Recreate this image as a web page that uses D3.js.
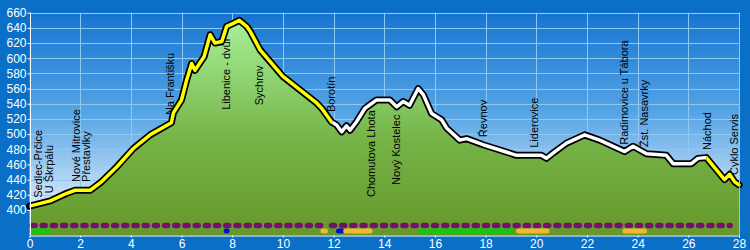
<!DOCTYPE html>
<html>
<head>
<meta charset="utf-8">
<script src="https://cdn.jsdelivr.net/npm/d3@7"></script>
<style>
  html, body { margin: 0; padding: 0; background: #0a6fc6; }
  svg { display: block; }
</style>
</head>
<body>
<div id="chart"></div>
<script>
// Elevation profile (km, metres)
const distKm = [0, 0.82, 1.47, 1.8, 2.4, 2.8, 3.45, 4.1, 4.76, 5.6, 5.68, 6.0, 6.2, 6.4, 6.53, 6.73, 6.89, 7.13, 7.32, 7.59,
    7.78, 8.04, 8.28, 8.57, 8.70, 9.1, 10.0, 11.33, 11.53, 11.92, 12.12, 12.32, 12.51, 12.65, 12.9, 13.24, 13.7, 14.22, 14.49,
    14.75, 15.0, 15.34, 15.54, 15.87, 16.26, 16.46, 16.98, 17.25, 17.9, 18.56, 19.22, 20.2, 20.4, 20.66, 21.19, 21.91, 22.5,
    23.49, 23.82, 24.35, 25.13, 25.4, 26.12, 26.38, 26.71, 27.43, 27.63, 27.83, 28.0];
const elevM = [405, 412, 422, 426, 426, 436, 457, 481, 499, 515, 528, 545, 571, 593, 584, 594, 602, 631, 620, 622,
    642, 646, 650, 642, 636, 611, 576, 541, 534, 516, 512, 503, 511, 505, 516, 534, 545, 545, 536,
    543, 538, 560, 552, 527, 519, 508, 492, 494, 486, 479, 472, 472, 468, 475, 488, 499, 492,
    477, 484, 474, 472, 461, 461, 468, 469, 440, 447, 437, 433];

// Line colour sections along the route
const sectionFrom = [0, 11.95, 26.71];
const sectionTo = [11.95, 26.71, 28];
const sectionColor = ['#ffff00', '#ffffff', '#ffff00'];

// Waypoint labels
const placeNames = ['Sedlec-Prčice', 'U Škrpálu', 'Nové Mitrovice', 'Přestavlky', 'Na Františku', 'Libenice - dvůr',
    'Sychrov', 'Borotín', 'Chomutova Lhota', 'Nový Kostelec', 'Řevnov', 'Liderovice', 'Radimovice u Tábora',
    'Žst. Nasavrky', 'Náchod', 'Cyklo Servis'];
const placeKm = [0.5, 0.93, 2.0, 2.38, 5.71, 7.91, 9.22, 12.05, 13.63, 14.62, 18.05, 20.06, 23.61, 24.42, 26.88, 27.98];
const placeBaseElev = [416, 422, 437, 437, 525, 532, 538, 529, 417, 433, 496, 482, 486, 483, 479, 446];

// Surface / path type bars under the profile
const dashFrom = [0, 11.82];
const dashTo = [11.62, 27.65];
const surfaceFrom = [0, 7.72, 11.5, 12.25, 12.4, 15.36, 19.22, 23.42];
const surfaceTo = [0.82, 7.84, 11.76, 12.27, 13.52, 19.12, 20.5, 24.35];
const surfaceColor = ['#10c810', '#0010d8', '#f4b830', '#0010d8', '#f4b830', '#10c810', '#f4b830', '#f4b830'];

const xTicks = d3.range(0, 29, 2);
const yTicks = d3.range(400, 661, 20);

const W = 750, H = 250;
const margin = { left: 29.5, right: 11, top: 12.7, bottom: 15 };

const x = d3.scaleLinear().domain([0, 28]).range([margin.left, W - margin.right]);
const y = d3.scaleLinear().domain([367, 660]).range([H - margin.bottom, margin.top]);

const svg = d3.select('#chart').append('svg')
    .attr('width', W).attr('height', H)
    .attr('font-family', 'Liberation Sans, Arial, sans-serif');

const defs = svg.append('defs');

svg.append('rect').attr('width', W).attr('height', H).attr('fill', '#0a6fc6');

// plot background gradient
const bg = defs.append('linearGradient').attr('id', 'bgGrad')
    .attr('gradientUnits', 'userSpaceOnUse')
    .attr('x1', 0).attr('x2', 0).attr('y1', y(660)).attr('y2', y(367));
bg.append('stop').attr('offset', 0).attr('stop-color', '#1674d0');
bg.append('stop').attr('offset', 0.45).attr('stop-color', '#56a4e6');
bg.append('stop').attr('offset', 1).attr('stop-color', '#ffffff');

const gr = defs.append('linearGradient').attr('id', 'greenGrad')
    .attr('gradientUnits', 'userSpaceOnUse')
    .attr('x1', 0).attr('x2', 0).attr('y1', y(650)).attr('y2', y(367));
gr.append('stop').attr('offset', 0).attr('stop-color', '#a8f098');
gr.append('stop').attr('offset', 0.55).attr('stop-color', '#76b448');
gr.append('stop').attr('offset', 1).attr('stop-color', '#66982c');

svg.append('rect')
    .attr('x', x(0)).attr('y', y(660))
    .attr('width', x(28) - x(0)).attr('height', y(367) - y(660))
    .attr('fill', 'url(#bgGrad)');

// grid
const grid = svg.append('g').attr('stroke', '#8ccaf4').attr('stroke-width', 1);
yTicks.forEach(v => {
    grid.append('line').attr('x1', x(0)).attr('x2', x(28))
        .attr('y1', Math.round(y(v)) + 0.5).attr('y2', Math.round(y(v)) + 0.5);
});
xTicks.forEach(v => {
    grid.append('line').attr('y1', y(660)).attr('y2', y(367))
        .attr('x1', Math.round(x(v)) + 0.5).attr('x2', Math.round(x(v)) + 0.5);
});

const pts = distKm.map((d, i) => [d, elevM[i]]);

const area = d3.area().x(d => x(d[0])).y0(y(367)).y1(d => y(d[1]));
svg.append('path').datum(pts).attr('d', area).attr('fill', 'url(#greenGrad)');

// waypoint labels
const labels = svg.append('g').attr('font-size', '11px').attr('fill', '#000');
placeNames.forEach((name, i) => {
    labels.append('text')
        .attr('transform', `translate(${x(placeKm[i])},${y(placeBaseElev[i])}) rotate(-90)`)
        .text(name);
});

// profile line: black outline with coloured core
const line = d3.line().x(d => x(d[0])).y(d => y(d[1]));
svg.append('path').datum(pts).attr('d', line)
    .attr('fill', 'none').attr('stroke', '#000').attr('stroke-width', 7)
    .attr('stroke-linejoin', 'round').attr('stroke-linecap', 'round');

sectionFrom.forEach((s, i) => {
    const id = 'sec' + i;
    defs.append('clipPath').attr('id', id).append('rect')
        .attr('x', x(s)).attr('y', 0)
        .attr('width', x(sectionTo[i]) - x(s) + (i === sectionFrom.length - 1 ? 5 : 0))
        .attr('height', H);
    svg.append('path').datum(pts).attr('d', line)
        .attr('clip-path', `url(#${id})`)
        .attr('fill', 'none').attr('stroke', sectionColor[i]).attr('stroke-width', 3.5)
        .attr('stroke-linejoin', 'round').attr('stroke-linecap', 'round');
});

// path type markers
dashFrom.forEach((s, i) => {
    svg.append('line')
        .attr('x1', x(s) + 2.5).attr('x2', x(dashTo[i])).attr('y1', 225.5).attr('y2', 225.5)
        .attr('stroke', '#76106e').attr('stroke-width', 5.5)
        .attr('stroke-linecap', 'round').attr('stroke-dasharray', '3,7.2');
});
surfaceFrom.forEach((s, i) => {
    svg.append('line')
        .attr('x1', x(s) + 2).attr('x2', x(surfaceTo[i]) - 2).attr('y1', 231).attr('y2', 231)
        .attr('stroke', surfaceColor[i]).attr('stroke-width', 5)
        .attr('stroke-linecap', 'round');
});

// axes
const yAxis = svg.append('g').attr('transform', `translate(${Math.round(x(0)) + 0.5},0)`)
    .call(d3.axisLeft(y).tickValues(yTicks).tickSize(3).tickPadding(1));
yAxis.select('.domain').attr('d', `M0,${y(660)}V${y(367)}`);

const xAxis = svg.append('g').attr('transform', `translate(0,${Math.round(y(367)) + 0.5})`)
    .call(d3.axisBottom(x).tickValues(xTicks).tickSize(2).tickPadding(2));

[yAxis, xAxis].forEach(a => {
    a.selectAll('.domain').attr('stroke', '#ffffff');
    a.selectAll('line').attr('stroke', '#ffffff');
    a.selectAll('text').attr('fill', '#ffffff').attr('font-size', '12px')
        .attr('font-family', 'Liberation Sans, Arial, sans-serif');
});
svg.append('line').attr('x1', Math.round(x(28)) + 0.5).attr('x2', Math.round(x(28)) + 0.5)
    .attr('y1', y(660)).attr('y2', y(367)).attr('stroke', '#8ccaf4');
</script>
</body>
</html>
